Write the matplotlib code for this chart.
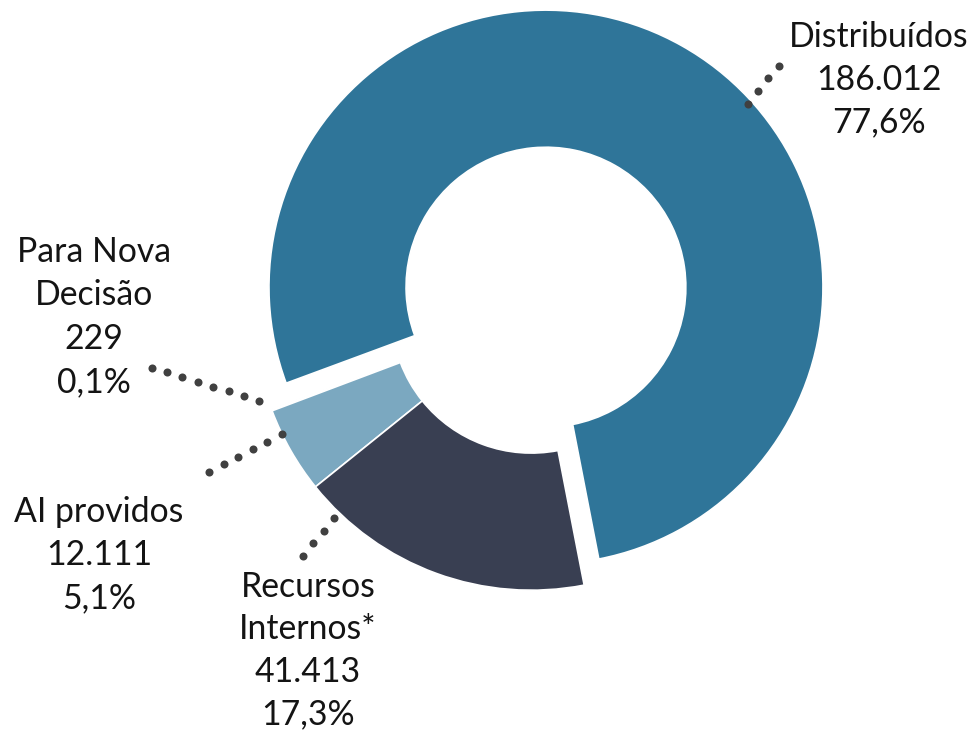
import matplotlib
matplotlib.use("Agg")
import matplotlib.pyplot as plt
import numpy as np

# ---- data ----
categories = ["Distribuídos", "Para Nova Decisão", "AI providos", "Recursos Internos*"]
values = [186012, 229, 12111, 41413]
value_labels = ["186.012", "229", "12.111", "41.413"]
pct_labels = ["77,6%", "0,1%", "5,1%", "17,3%"]
name_lines = [["Distribuídos"], ["Para Nova", "Decisão"], ["AI providos"], ["Recursos", "Internos*"]]
colors = ["#2F7599", "#B7D0DE", "#7BA8C0", "#393F52"]
explode = [0.108, 0, 0, 0]

plt.rcParams['font.family'] = ['Lato', 'DejaVu Sans']

W, H = 975, 731
fig = plt.figure(figsize=(W / 100, H / 100), dpi=100)
ax = fig.add_axes([0, 0, 1, 1])

# donut center in pixels and radius in pixels
cx, cy, R = 531.3, 313.2, 277.0
ax.pie(values, colors=colors, explode=explode, startangle=-79, counterclock=True,
       radius=1, wedgeprops=dict(width=0.495, edgecolor="white", linewidth=1.2))
ax.set_xlim(-cx / R, (W - cx) / R)
ax.set_ylim((cy - H) / R, cy / R)
ax.set_aspect('equal', adjustable='box')
ax.axis('off')

def fx(px):
    return px / W

def fy(py):
    return 1 - py / H

# label layout (pixel positions): center x, first baseline, line step
layout = [
    (879, 47, 42.5),
    (94, 262, 43.3),
    (99, 522, 43.0),
    (308, 597, 42.3),
]
leaders = [
    ((747.7, 104.0), (778.7, 65.7), 4),
    ((151.7, 367.7), (259.3, 401.0), 8),
    ((209.3, 471.7), (281.7, 434.3), 6),
    ((303.3, 556.0), (333.7, 518.3), 4),
]

for i in range(len(categories)):
    lines = name_lines[i] + [value_labels[i], pct_labels[i]]
    x0, y0, step = layout[i]
    for k, line in enumerate(lines):
        fig.text(fx(x0), fy(y0 + k * step), line, ha='center', va='baseline',
                 fontsize=24.3, color='#141414')
    (xa, ya), (xb, yb), n = leaders[i]
    xs = np.linspace(xa, xb, n)
    ys = np.linspace(ya, yb, n)
    fig.lines.append(plt.Line2D(fx(xs), fy(ys), transform=fig.transFigure,
                                linestyle='none', marker='o', markersize=5.8,
                                markerfacecolor='#404040', markeredgewidth=0))

fig.savefig("out.png", dpi=100)
